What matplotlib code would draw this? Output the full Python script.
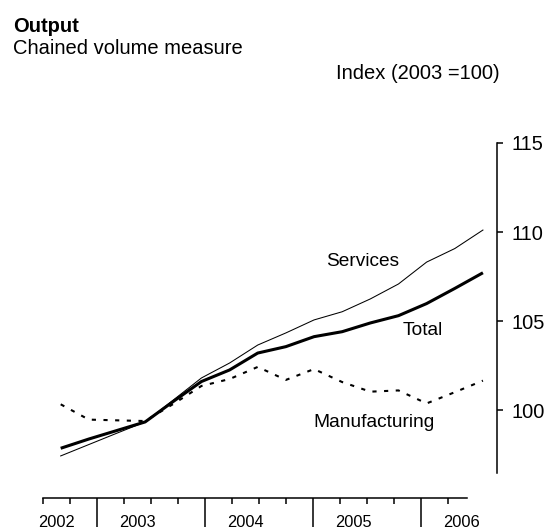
import numpy as np
import matplotlib
matplotlib.use("Agg")
import matplotlib.pyplot as plt

plt.rcParams['font.family'] = ['Liberation Sans', 'DejaVu Sans']

# Quarterly data, 2002 Q3 to 2006 Q2 (index, 2003 = 100)
quarters = ['2002 Q3', '2002 Q4',
            '2003 Q1', '2003 Q2', '2003 Q3', '2003 Q4',
            '2004 Q1', '2004 Q2', '2004 Q3', '2004 Q4',
            '2005 Q1', '2005 Q2', '2005 Q3', '2005 Q4',
            '2006 Q1', '2006 Q2']
total = [97.85, 98.37, 98.85, 99.33, 100.48, 101.6, 102.25, 103.2,
         103.56, 104.12, 104.4, 104.89, 105.3, 105.98, 106.83, 107.71]
services = [97.42, 98.06, 98.7, 99.33, 100.56, 101.8, 102.64, 103.65,
            104.33, 105.06, 105.52, 106.24, 107.08, 108.31, 109.07, 110.11]
manufacturing = [100.32, 99.46, 99.42, 99.38, 100.34, 101.35, 101.74, 102.42,
                 101.69, 102.3, 101.57, 101.03, 101.1, 100.37, 101.0, 101.65]
y_ticks = [100, 105, 110, 115]

# Timeline below the chart
years = ['2002', '2003', '2004', '2005', '2006']
year_label_pos = [0.5, 3.5, 7.5, 11.5, 15.5]
year_bounds = [2, 6, 10, 14]

W, H = 547, 531
fig = plt.figure(figsize=(W / 100, H / 100), dpi=100)

# Main chart
ax = fig.add_axes([43.8 / W, 1 - 473.2 / H, 453.2 / W, 330.2 / H])
x = np.arange(len(quarters))
ax.plot(x, services, color='black', lw=0.75)
ax.plot(x, total, color='black', lw=2.2, solid_capstyle='butt')
ax.plot(x, manufacturing, color='black', lw=1.5, linestyle=(0, (2, 3.6)))
ax.set_xlim(-0.6, 15.5)
ax.set_ylim(96.45, 115)

for s in ['left', 'top', 'bottom']:
    ax.spines[s].set_visible(False)
ax.spines['right'].set_linewidth(1.1)
ax.yaxis.tick_right()
ax.set_yticks(y_ticks)
ax.tick_params(axis='y', direction='out', length=4.3, width=1.1,
               pad=5.8, labelsize=14.4)
ax.set_xticks([])

# Series labels
ax.text(10.74, 108.09, 'Services', fontsize=13.8, ha='center', va='baseline')
ax.text(12.86, 104.21, 'Total', fontsize=13.8, ha='center', va='baseline')
ax.text(11.14, 99.04, 'Manufacturing', fontsize=13.8, ha='center', va='baseline')

# Titles
fig.text(13 / W, 1 - 31.5 / H, 'Output', fontsize=14.5, fontweight='bold')
fig.text(13 / W, 1 - 54.5 / H, 'Chained volume measure', fontsize=14.5)
fig.text(500 / W, 1 - 79 / H, 'Index (2003 =100)', fontsize=14.5, ha='right')

# Timeline axis
ax2 = fig.add_axes([43.3 / W, 0, 423.7 / W, 32.7 / H])
ax2.set_xlim(0, 15.69)
ax2.set_ylim(0, 1)
for s in ['left', 'right', 'bottom']:
    ax2.spines[s].set_visible(False)
ax2.spines['top'].set_linewidth(1.1)
ax2.xaxis.tick_top()
ax2.set_yticks([])
ax2.set_xticks(year_bounds)
ax2.set_xticks([q for q in range(16) if q not in year_bounds], minor=True)
ax2.tick_params(axis='x', which='major', direction='in', length=20.9,
                width=1.1, labeltop=False)
ax2.tick_params(axis='x', which='minor', direction='in', length=4.3,
                width=1.1, labeltop=False)
for pos, yr in zip(year_label_pos, years):
    ax2.text(pos, 0.11, yr, fontsize=11.8, ha='center', va='baseline',
             clip_on=False)
ax2.patch.set_visible(False)

fig.savefig('out.png', dpi=100)
